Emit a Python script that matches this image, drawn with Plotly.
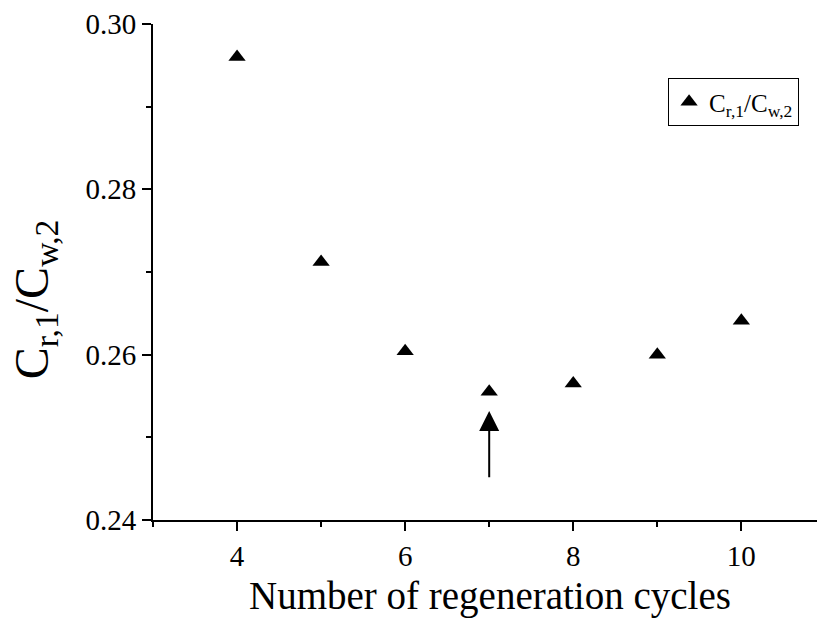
import plotly.graph_objects as go

cycles = [4, 5, 6, 7, 8, 9, 10]
ratio = [0.2960, 0.2712, 0.2604, 0.2555, 0.2565, 0.2600, 0.2641]
series_name = "C<sub>r,1</sub>/C<sub>w,2</sub>"
x_title = "Number of regeneration cycles"
y_title = "C<sub>r,1</sub>/C<sub>w,2</sub>"
x_ticks = [4, 6, 8, 10]
y_ticks = [0.24, 0.26, 0.28, 0.30]
arrow_x = 7
arrow_tip = 0.2532
arrow_tail = 0.2450

FONT = "Liberation Serif"

fig = go.Figure()
fig.add_trace(go.Scatter(
    x=cycles, y=ratio, mode="markers", name=series_name,
    marker=dict(symbol="triangle-up", size=15, color="black"),
))

fig.add_annotation(
    x=arrow_x, y=arrow_tip, ax=arrow_x, ay=arrow_tail,
    xref="x", yref="y", axref="x", ayref="y",
    showarrow=True, arrowhead=2, arrowsize=2, arrowwidth=2, arrowcolor="black",
    text="",
)

fig.update_layout(
    width=817, height=625,
    margin=dict(l=153, r=0, t=24, b=105),
    plot_bgcolor="white", paper_bgcolor="white",
    font=dict(family=FONT, color="black", size=22),
    showlegend=True,
    legend=dict(
        x=0.973, y=0.891, xanchor="right", yanchor="top",
        bordercolor="black", borderwidth=1, bgcolor="white",
        font=dict(family=FONT, size=25, color="black"),
        itemwidth=30,
    ),
    xaxis=dict(
        range=[3, 10.9], tickvals=x_ticks, ticks="outside", ticklen=9, tickwidth=2, tickcolor="black",
        showline=True, linewidth=2, linecolor="black", showgrid=False, zeroline=False,
        tickfont=dict(family=FONT, size=29, color="black"),
        minor=dict(dtick=1, tick0=0, ticks="outside", ticklen=5, tickwidth=2, tickcolor="black", showgrid=False),
    ),
    yaxis=dict(
        range=[0.24, 0.30], tickvals=y_ticks, tickformat=".2f", ticks="outside", ticklen=9, tickwidth=2, tickcolor="black",
        showline=True, linewidth=2, linecolor="black", showgrid=False, zeroline=False,
        tickfont=dict(family=FONT, size=29, color="black"),
        minor=dict(dtick=0.01, tick0=0, ticks="outside", ticklen=5, tickwidth=2, tickcolor="black", showgrid=False),
    ),
)

fig.add_annotation(
    text=x_title, xref="paper", yref="paper", x=0.508, y=0, yshift=-76,
    xanchor="center", yanchor="middle", showarrow=False,
    font=dict(family=FONT, size=39, color="black"),
)
fig.add_annotation(
    text=y_title, xref="paper", yref="paper", x=0, y=0.445, xshift=-118,
    xanchor="center", yanchor="middle", showarrow=False, textangle=-90,
    font=dict(family=FONT, size=48, color="black"),
)

fig.write_html("out.html")
